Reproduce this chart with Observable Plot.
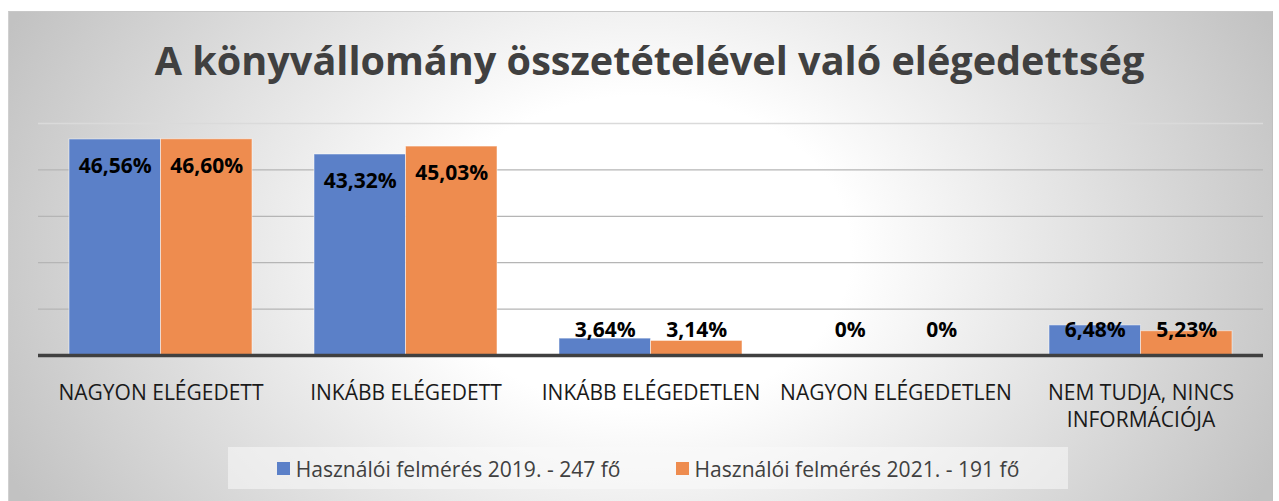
<!DOCTYPE html>
<html><head><meta charset="utf-8">
<script src="https://cdn.jsdelivr.net/npm/d3@7"></script>
<script src="https://cdn.jsdelivr.net/npm/@observablehq/plot@0.6"></script>
<style>
html,body{margin:0;padding:0;background:#fff;overflow:hidden;width:1279px;height:501px;font-family:"Open Sans",sans-serif;}
#panel{position:absolute;left:8px;top:11px;width:1263px;height:495px;border-top:1px solid #c8c8c8;border-left:1px solid #d0d0d0;border-right:1px solid #c0c0c0;
background:radial-gradient(ellipse 700px 520px at 632px 240px,#ffffff 30%,#c2c2c2 100%);}
#title{position:absolute;left:10px;width:1279px;text-align:center;white-space:nowrap;font-weight:700;color:#404040;}
#chart{position:absolute;left:0;top:100px;}
#legend{position:absolute;left:228px;top:447px;width:840px;height:42px;background:rgba(250,250,250,0.55);display:flex;align-items:center;justify-content:center;gap:55px;color:#404040;white-space:nowrap;}
.item{display:flex;align-items:center;}
.sw{width:13px;height:13px;margin-right:6px;}
</style></head>
<body>
<div id="panel"></div>
<div id="title"></div>
<div id="chart"></div>
<div id="legend"></div>
<script>
const titleText = "A könyvállomány összetételével való elégedettség";
const categories = ["NAGYON ELÉGEDETT","INKÁBB ELÉGEDETT","INKÁBB ELÉGEDETLEN","NAGYON ELÉGEDETLEN","NEM TUDJA, NINCS\nINFORMÁCIÓJA"];
const series = ["Használói felmérés 2019. - 247 fő","Használói felmérés 2021. - 191 fő"];
const values2019 = [46.56, 43.32, 3.64, 0, 6.48];
const values2021 = [46.60, 45.03, 3.14, 0, 5.23];
const gridTicks = [10, 20, 30, 40];
const topTick = [50];
const colors = ["#5b80c8", "#ee8c4f"];

const rows2019 = categories.map((c,i)=>({cat:c, v:values2019[i], s:series[0]}));
const rows2021 = categories.map((c,i)=>({cat:c, v:values2021[i], s:series[1]}));

const ctx = document.createElement("canvas").getContext("2d");
function fit(text, weight, target){ ctx.font = `${weight} 100px "Open Sans"`; return 100*target/ctx.measureText(text).width; }

// title
const tfs = fit(titleText, 700, 990);
const t = document.getElementById("title");
t.textContent = titleText;
t.style.fontSize = tfs+"px"; t.style.lineHeight = tfs+"px";
t.style.top = (76 - 0.888*tfs)+"px";

// legend
const lfs = fit(series[0], 400, 325);
const lg = document.getElementById("legend");
lg.style.fontSize = lfs+"px";
series.forEach((s,i)=>{
  const it = document.createElement("div"); it.className="item";
  const sw = document.createElement("div"); sw.className="sw"; sw.style.background=colors[i];
  const tx = document.createElement("span"); tx.textContent = s;
  it.append(sw, tx); lg.append(it);
});

const fmt = v => v===0 ? "0%" : d3.format(".2f")(v).replace(".", ",") + "%";
const W=1279, H=330, ml=38, mr=16, pi=0.253, po=0.1265;
const step = (W-ml-mr)/(categories.length - pi + 2*po);
const bw = step*(1-pi);
const big = d => d.v >= 20, small = d => d.v < 20;
const lab = {fontSize:21, fontWeight:"bold", fill:"#000", fontFamily:"Open Sans"};

const plot = Plot.plot({
  width:W, height:H, marginLeft:ml, marginRight:mr, marginTop:23, marginBottom:75,
  style:"background:transparent;overflow:visible;font-family:'Open Sans',sans-serif;",
  x:{type:"band", domain:categories, paddingInner:pi, paddingOuter:po, axis:null},
  y:{domain:[0,50], axis:null},
  marks:[
    Plot.ruleY(topTick, {stroke:"#dadada", strokeWidth:1.3}),
    Plot.ruleY(gridTicks, {stroke:"#b5b5b5", strokeWidth:1.3}),
    Plot.barY(rows2019, {x:"cat", y:"v", fill:colors[0], insetRight:bw/2, stroke:"#fff", strokeOpacity:0.5, strokeWidth:1}),
    Plot.barY(rows2021, {x:"cat", y:"v", fill:colors[1], insetLeft:bw/2, stroke:"#fff", strokeOpacity:0.5, strokeWidth:1}),
    Plot.ruleY([0], {stroke:"#404040", strokeWidth:3.5}),
    Plot.text(rows2019.filter(big), {x:"cat", y:"v", text:d=>fmt(d.v), dx:-bw/4, dy:27, ...lab}),
    Plot.text(rows2021.filter(big), {x:"cat", y:"v", text:d=>fmt(d.v), dx:bw/4, dy:27, ...lab}),
    Plot.text(rows2019.filter(small), {x:"cat", y:d=>0, text:d=>fmt(d.v), dx:-bw/4, dy:-25, ...lab}),
    Plot.text(rows2021.filter(small), {x:"cat", y:d=>0, text:d=>fmt(d.v), dx:bw/4, dy:-25, ...lab}),
    Plot.text(categories, {x:d=>d, frameAnchor:"bottom", lineAnchor:"top", dy:25, fontSize:21, lineHeight:1.3, fill:"#1a1a1a", fontFamily:"Open Sans"})
  ]
});
document.getElementById("chart").append(plot);
</script>
</body></html>
